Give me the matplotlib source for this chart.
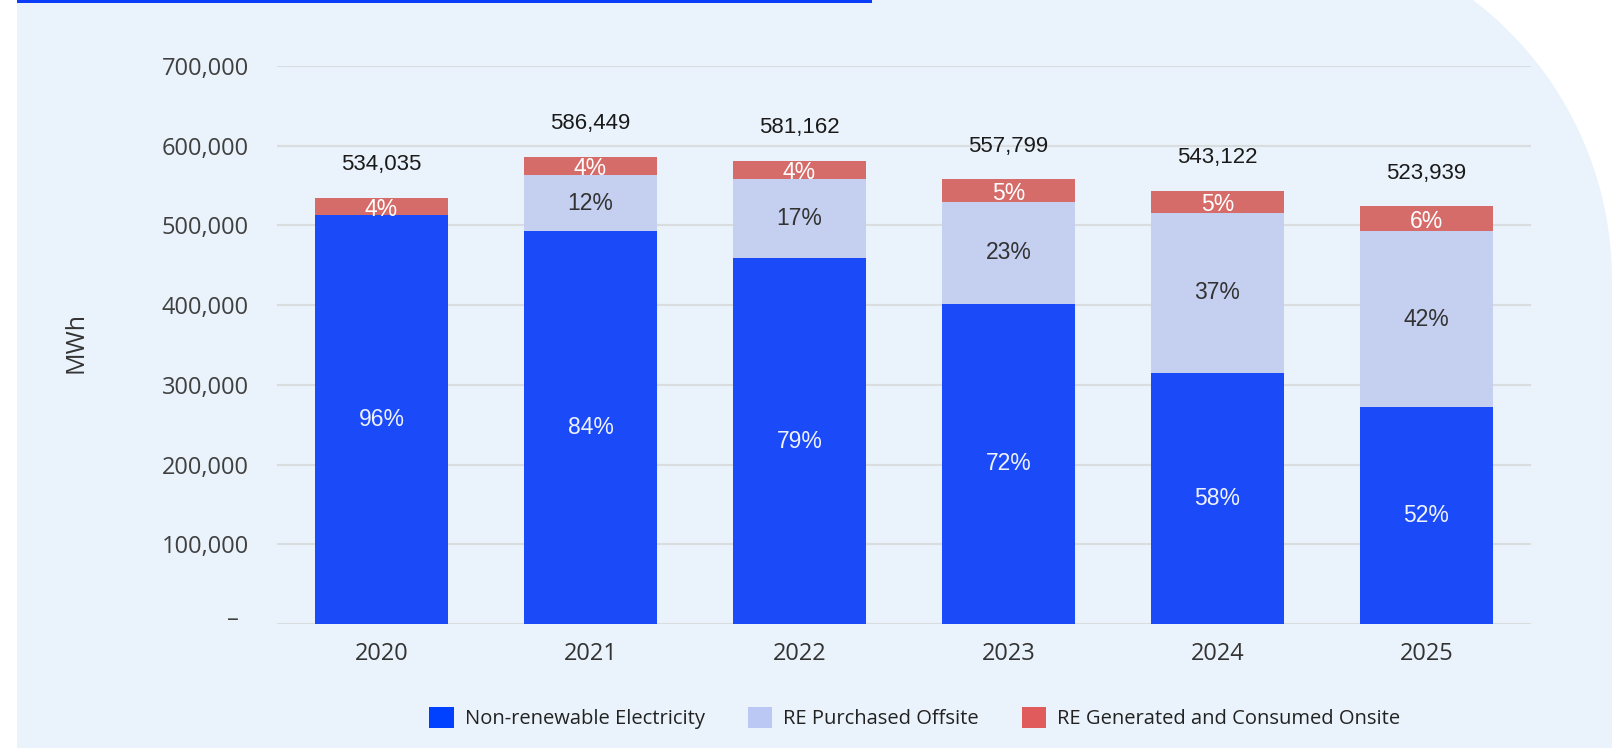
import numpy as np
import matplotlib
matplotlib.use('Agg')
import matplotlib.pyplot as plt
from matplotlib.patches import Patch, Rectangle, PathPatch
from matplotlib.path import Path

years = ['2020', '2021', '2022', '2023', '2024', '2025']
non_renewable = [512700, 492600, 459100, 401600, 315000, 272400]
re_purchased = [0, 70400, 98800, 128300, 201000, 220000]
re_onsite = [21335, 23449, 23262, 27899, 27122, 31539]
totals = [534035, 586449, 581162, 557799, 543122, 523939]
pct_non_renewable = ['96%', '84%', '79%', '72%', '58%', '52%']
pct_purchased = ['', '12%', '17%', '23%', '37%', '42%']
pct_onsite = ['4%', '4%', '4%', '5%', '5%', '6%']
y_ticks = [0, 100000, 200000, 300000, 400000, 500000, 600000, 700000]
y_tick_labels = ['', '100,000', '200,000', '300,000', '400,000', '500,000', '600,000', '700,000']
series_names = ['Non-renewable Electricity', 'RE Purchased Offsite', 'RE Generated and Consumed Onsite']

W, H = 1624, 748
bar_colors = ['#1B4AF8', '#C5CFF0', '#D66C6A']
legend_colors = ['#0040FF', '#BAC8F3', '#E05C5C']

fig = plt.figure(figsize=(W / 100, H / 100), dpi=100, facecolor='white')

# background panel with rounded top-right corner (pixel coords -> figure fraction)
cx, cy, r = 1260.5, 280, 351.5
ang = np.linspace(np.pi / 2, 0, 60)
pts = [(17, H), (17, cy - r)]
pts += [(cx + r * np.cos(a), cy - r * np.sin(a)) for a in ang]
pts += [(cx + r, H), (17, H)]
verts = [(x / W, 1 - y / H) for x, y in pts]
codes = [Path.MOVETO] + [Path.LINETO] * (len(verts) - 2) + [Path.CLOSEPOLY]
panel = PathPatch(Path(verts, codes), facecolor='#EAF3FB', edgecolor='none',
                  transform=fig.transFigure, zorder=-5)
fig.patches.append(panel)
fig.patches.append(Rectangle((17 / W, 1 - 3.4 / H), (872 - 17) / W, 3.4 / H,
                             facecolor='#0A3CFA', edgecolor='none',
                             transform=fig.transFigure, zorder=-4))

ax = fig.add_axes([277 / W, 1 - 624 / H, (1531 - 277) / W, (624 - 66) / H])
ax.set_facecolor('none')

x = np.arange(len(years))
bw = 0.64
b1 = ax.bar(x, non_renewable, bw, color=bar_colors[0], zorder=3)
b2 = ax.bar(x, re_purchased, bw, bottom=non_renewable, color=bar_colors[1], zorder=3)
bottom3 = np.array(non_renewable) + np.array(re_purchased)
b3 = ax.bar(x, re_onsite, bw, bottom=bottom3, color=bar_colors[2], zorder=3)

pfont = 'Liberation Sans'
for i in range(len(years)):
    ax.text(x[i], non_renewable[i] / 2, pct_non_renewable[i], ha='center', va='center',
            fontsize=16.5, color='#EEF2FF', family=pfont, zorder=4)
    if pct_purchased[i]:
        ax.text(x[i], non_renewable[i] + re_purchased[i] / 2, pct_purchased[i], ha='center',
                va='center', fontsize=16.5, color='#333333', family=pfont, zorder=4)
    ax.annotate(pct_onsite[i], (x[i], bottom3[i] + re_onsite[i] / 2), xytext=(0, -2),
                textcoords='offset points', ha='center', va='center',
                fontsize=16.5, color='#FFFFFF', family=pfont, zorder=4)
    ax.annotate(f'{totals[i]:,}', (x[i], totals[i]), xytext=(0, 24),
                textcoords='offset points', ha='center', va='center',
                fontsize=16, color='#1A1A1A', family=pfont)

ax.set_xlim(-0.5, len(years) - 0.5)
ax.set_ylim(0, 700000)
ax.set_yticks(y_ticks)
ax.set_yticklabels(y_tick_labels, ha='left', family='Open Sans', fontsize=17, color='#404040')
ax.set_xticks(x)
ax.set_xticklabels(years, family='Open Sans', fontsize=17, color='#333333')
ax.tick_params(axis='y', length=0, pad=83)
ax.tick_params(axis='x', length=0, pad=13)
ax.annotate('–', xy=(0, 0), xycoords=('axes fraction', 'data'), xytext=(-32, 3),
            textcoords='offset points', ha='center', va='center',
            family='Open Sans', fontsize=17, color='#404040')
for s in ax.spines.values():
    s.set_visible(False)
ax.grid(axis='y', color='#D9DDE0', linewidth=1.6, zorder=0)
ax.set_axisbelow(True)

fig.text(76 / W, 1 - 343 / H, 'MWh', rotation=90, ha='center', va='center',
         family='Open Sans', fontsize=18, color='#333333')

handles = [Patch(facecolor=c, edgecolor='none') for c in legend_colors]
fig.legend(handles, series_names, loc='center', ncol=3,
           bbox_to_anchor=((433 + 1397) / 2 / W, 1 - 718 / H), frameon=False,
           prop={'family': 'Open Sans', 'size': 14.5}, handlelength=1.2, handleheight=1.2,
           handletextpad=0.55, columnspacing=2.15, labelcolor='#222222')

fig.savefig('out.png', dpi=100, facecolor='white')
